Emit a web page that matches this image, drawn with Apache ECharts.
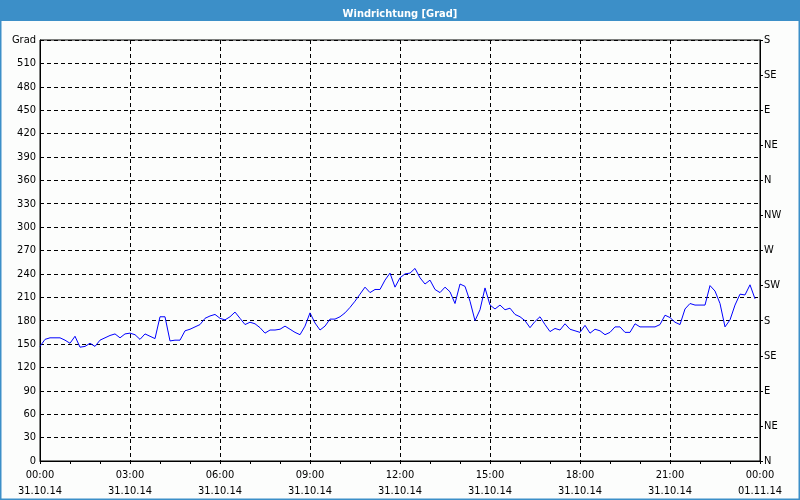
<!DOCTYPE html>
<html><head><meta charset="utf-8">
<script src="https://cdn.jsdelivr.net/npm/echarts@6/dist/echarts.min.js"></script>
<style>html,body{margin:0;padding:0;background:#fff}#c{width:800px;height:500px}</style>
</head><body><div id="c"></div>
<script>
var titleText = 'Windrichtung [Grad]';
var stepMinutes = 10;
var windDir = [
147,156,158,158,158,155,151,160,146,147,151,147,155,158,161,163,158,163,164,162,156,163,160,157,
185,185,154,155,155,167,169,172,175,183,186,188,
183,181,185,191,183,175,178,176,171,164,168,168,169,173,169,165,162,173,190,177,168,173,182,182,185,190,197,205,214,223,216,220,220,232,241,223,
235,240,241,247,235,227,232,220,216,223,217,202,227,224,205,180,194,222,200,195,200,194,196,188,185,180,171,179,185,175,166,170,168,176,169,167,
165,174,164,169,167,162,165,172,172,165,165,176,172,172,172,172,175,187,184,178,175,195,202,200,200,200,225,218,202,172,181,200,214,213,226,208
];
var xTickLabels = ['00:00\n31.10.14','03:00\n31.10.14','06:00\n31.10.14','09:00\n31.10.14','12:00\n31.10.14','15:00\n31.10.14','18:00\n31.10.14','21:00\n31.10.14','00:00\n01.11.14'];
var leftTop = 'Grad';
var dirLabels = ['N','NE','E','SE','S','SW','W','NW','N','NE','E','SE','S'];

var seriesData = windDir.map(function(v,i){return [i*stepMinutes, v];});
var font = '"DejaVu Sans Condensed", "Liberation Sans", sans-serif';
var chart = echarts.init(document.getElementById('c'));
chart.setOption({
  backgroundColor: '#fcfdfc',
  animation: false,
  title: {text: titleText, left: 'center', top: 4, textStyle: {color:'#fff', fontSize: 11, fontWeight: 'bold', fontFamily: font}},
  graphic: [
    {type:'rect', z:-1, shape:{x:0,y:0,width:800,height:21}, style:{fill:'#3c8fc8'}},
    {type:'rect', z:-1, shape:{x:0.5,y:0.5,width:799,height:499}, style:{fill:null, stroke:'#3c8fc8', lineWidth:2}}
  ],
  grid: {left: 40, right: 40, top: 40, bottom: 39, show: true, borderColor: '#000', borderWidth: 1, backgroundColor: '#fcfdfc'},
  xAxis: {
    type: 'value', min: 0, max: 1440, interval: 180,
    axisLine: {show: true, lineStyle: {color: '#000'}},
    axisTick: {show: true, length: 3, lineStyle:{color:'#000'}},
    minorTick: {show: true, splitNumber: 3, length: 3, lineStyle:{color:'#000'}},
    splitLine: {show: true, lineStyle: {color: '#000', type: [4,3], width: 1}},
    axisLabel: {color: '#000', fontSize: 11, fontFamily: font, lineHeight: 16, margin: 6,
      formatter: function(v){ return xTickLabels[Math.round(v/180)]; }}
  },
  yAxis: [{
    type: 'value', min: 0, max: 540, interval: 30, position: 'left',
    axisLine: {show: true, lineStyle: {color: '#000'}},
    axisTick: {show: false},
    splitLine: {show: true, lineStyle: {color: '#000', type: [4,3], width: 1}},
    axisLabel: {color: '#000', fontSize: 11, fontFamily: font, margin: 4, padding: [3,0,0,0],
      formatter: function(v){ return v === 540 ? leftTop : String(v); }}
  },{
    type: 'value', min: 0, max: 540, interval: 45, position: 'right',
    axisLine: {show: true, lineStyle: {color: '#000'}},
    axisTick: {show: true, length: 3, lineStyle:{color:'#000'}},
    splitLine: {show: false},
    axisLabel: {color: '#000', fontSize: 11, fontFamily: font, margin: 4, padding: [3,0,0,0],
      formatter: function(v){ return dirLabels[Math.round(v/45)]; }}
  }],
  series: [{
    type: 'line', data: seriesData, yAxisIndex: 0, showSymbol: false, symbol: 'none',
    lineStyle: {color: '#0000ff', width: 1}, z: 5
  }]
});
</script></body></html>
